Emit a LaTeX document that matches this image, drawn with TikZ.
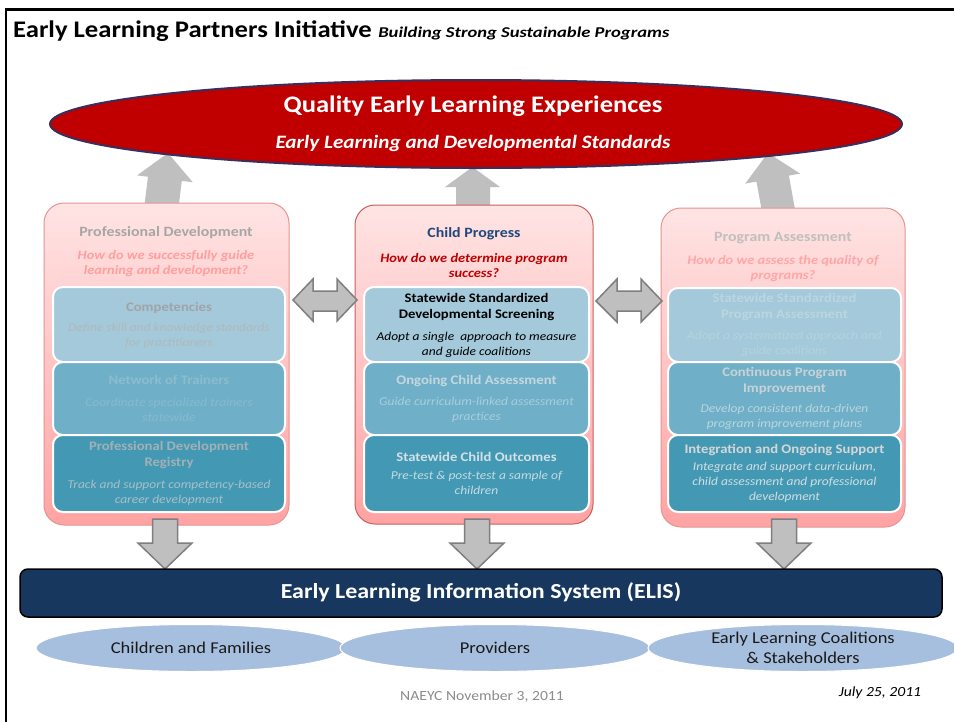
\documentclass[tikz,border=0pt]{standalone}
\usepackage{fontspec}
\setmainfont{Carlito}[FakeStretch=1.12]
\usetikzlibrary{shapes.geometric}
\definecolor{qred}{HTML}{C00000}
\definecolor{qrim}{HTML}{3A2E5C}
\definecolor{arrgray}{HTML}{BFBFBF}
\definecolor{arrline}{HTML}{7F7F7F}
\definecolor{pnltop}{HTML}{FFE4E4}
\definecolor{pnlbot}{HTML}{FFA3A3}
\definecolor{pnlrim}{HTML}{C9605D}
\definecolor{pnlrimf}{HTML}{E39593}
\definecolor{boxa}{HTML}{A3C9DA}
\definecolor{boxb}{HTML}{6FB0C8}
\definecolor{boxc}{HTML}{4399B4}
\definecolor{elis}{HTML}{17375E}
\definecolor{ovalc}{HTML}{A7BFDE}
\definecolor{navyt}{HTML}{1F497D}
\definecolor{footg}{HTML}{8C8C8C}
\tikzset{
  panelbox/.style={draw, rounded corners=20pt, top color=pnltop, bottom color=pnlbot, line width=1pt},
  innerbox/.style={draw=white, line width=2pt, rounded corners=10pt},
  blockarr/.style={fill=arrgray, draw=arrline, line width=1.5pt, line join=miter},
  uparr/.style={fill=arrgray},
  ptitle/.style={font=\fontsize{14.2}{16}\selectfont\bfseries, align=center, inner sep=0},
  pquest/.style={font=\fontsize{12.9}{15}\selectfont\bfseries\itshape, align=center, inner sep=0},
  btitle/.style={font=\fontsize{13.1}{16}\selectfont\bfseries, align=center, inner sep=0},
  bdesc/.style={font=\fontsize{12}{15}\selectfont\itshape, align=center, inner sep=0},
  ovaltxt/.style={font=\fontsize{16.5}{20}\selectfont, align=center, inner sep=0, text=black!90},
  oval/.style={ellipse, fill=ovalc, draw=white, line width=1pt, minimum width=310pt, minimum height=47pt, inner sep=0}
}
\begin{document}
\begin{tikzpicture}[x=1pt,y=-1pt]
\useasboundingbox (0,0) rectangle (954,721);
\fill[white] (0,0) rectangle (954,721);
% frame
\draw[line width=2.7pt] (6,722) -- (6,9.7) -- (956,9.7);
% title
\node[anchor=base west, inner sep=0] (title) at (13,37) {{\fontsize{23.8}{24}\selectfont\bfseries Early Learning Partners Initiative}\hspace{4pt} {\addfontfeature{FakeStretch=1.24}\fontsize{15}{15}\selectfont\bfseries\itshape Building Strong Sustainable Programs}};

% up arrows (drawn under the ellipse)
\fill[uparr] (168,153) -- (192.7,182.2) -- (181.8,180.9) -- (178.0,211.6) -- (144.2,207.4) -- (148.0,176.7) -- (137.1,175.4) -- cycle;
\fill[uparr] (472.5,167) -- (500,187) -- (490,187) -- (490,210) -- (456,210) -- (456,187) -- (445,187) -- cycle;
\fill[uparr] (768,153) -- (800.2,173.6) -- (788.9,175.6) -- (795.3,211.0) -- (762.9,217.0) -- (756.5,181.6) -- (745.2,183.6) -- cycle;

% top ellipse
\node[ellipse, fill=qred, draw=qrim, line width=2pt, minimum width=852pt, minimum height=88pt] (quality) at (476,124) {};
\node[text=white, font=\fontsize{23.7}{24}\selectfont\bfseries, inner sep=0] (qt) at (473,106) {Quality Early Learning Experiences};
\node[text=white, font=\fontsize{18.9}{20}\selectfont\bfseries\itshape, inner sep=0] (qs) at (473,143) {Early Learning and Developmental Standards};

% panels
\node[panelbox, draw=pnlrimf, minimum width=245pt, minimum height=322pt] (pd) at (166.5,364) {};
\node[panelbox, draw=pnlrim, minimum width=238pt, minimum height=319pt] (cp) at (474,364.5) {};
\node[panelbox, draw=pnlrimf, minimum width=244pt, minimum height=319pt] (pa) at (783,367.5) {};

% inner boxes left
\node[innerbox, fill=boxa, minimum width=232pt, minimum height=75pt] (pd1) at (169,324.5) {};
\node[innerbox, fill=boxb, minimum width=232pt, minimum height=73pt] (pd2) at (169,398.5) {};
\node[innerbox, fill=boxc, minimum width=232pt, minimum height=77pt] (pd3) at (169,473.5) {};
% inner boxes middle
\node[innerbox, fill=boxa, minimum width=225pt, minimum height=75pt] (cp1) at (476.5,324.5) {};
\node[innerbox, fill=boxb, minimum width=225pt, minimum height=73pt] (cp2) at (476.5,398.5) {};
\node[innerbox, fill=boxc, minimum width=225pt, minimum height=77pt] (cp3) at (476.5,473.5) {};
% inner boxes right
\node[innerbox, fill=boxa, minimum width=233pt, minimum height=74pt] (pa1) at (784.5,325) {};
\node[innerbox, fill=boxb, minimum width=233pt, minimum height=73pt] (pa2) at (784.5,398.5) {};
\node[innerbox, fill=boxc, minimum width=233pt, minimum height=77pt] (pa3) at (784.5,473.5) {};

% left panel texts (faded)
\node[ptitle, text={rgb,255:red,166;green,166;blue,166}] (pdt) at (166,233) {Professional Development};
\node[pquest, text={rgb,255:red,255;green,159;blue,159}] (pdq) at (166,263.5) {How do we successfully guide\\learning and development?};
\node[btitle, text={rgb,255:red,160;green,164;blue,168}] (pd1t) at (169,308) {Competencies};
\node[bdesc, text={rgb,255:red,176;green,184;blue,188}] (pd1d) at (169,335.5) {Define skill and knowledge standards\\for practitioners};
\node[btitle, text={rgb,255:red,140;green,188;blue,206}] (pd2t) at (169,380) {Network of Trainers};
\node[bdesc, text={rgb,255:red,136;green,186;blue,205}] (pd2d) at (169,410) {Coordinate specialized trainers\\statewide};
\node[btitle, text={rgb,255:red,163;green,176;blue,181}] (pd3t) at (169,455) {Professional Development\\Registry};
\node[bdesc, text={rgb,255:red,169;green,191;blue,199}] (pd3d) at (169,493) {Track and support competency-based\\career development};

% middle panel texts
\node[ptitle, text=navyt] (cpt) at (474,234) {Child Progress};
\node[pquest, text=qred] (cpq) at (474,265.5) {How do we determine program\\success?};
\node[btitle, text=black] (cp1t) at (476.5,307) {Statewide Standardized\\Developmental Screening};
\node[bdesc, text=black] (cp1d) at (476.5,344.5) {Adopt a single\ \ approach to measure\\and guide coalitions};
\node[btitle, text={rgb,255:red,197;green,215;blue,222}] (cp2t) at (476.5,381) {Ongoing Child Assessment};
\node[bdesc, text={rgb,255:red,167;green,206;blue,220}] (cp2d) at (476.5,410) {Guide curriculum-linked assessment\\practices};
\node[btitle, text={rgb,255:red,211;green,224;blue,230}] (cp3t) at (476.5,457) {Statewide Child Outcomes};
\node[bdesc, text={rgb,255:red,198;green,218;blue,226}] (cp3d) at (476.5,482.5) {Pre-test \& post-test a sample of\\children};

% right panel texts (faded)
\node[ptitle, text={rgb,255:red,191;green,191;blue,191}] (pat) at (783,238) {Program Assessment};
\node[pquest, text={rgb,255:red,255;green,166;blue,166}] (paq) at (783,269) {How do we assess the quality of\\programs?};
\node[btitle, text={rgb,255:red,188;green,214;blue,224}] (pa1t) at (784.5,307.5) {Statewide Standardized\\Program Assessment};
\node[bdesc, text={rgb,255:red,182;green,211;blue,222}] (pa1d) at (784.5,344) {Adopt a systematized approach and\\guide coalitions};
\node[btitle, text={rgb,255:red,201;green,210;blue,214}] (pa2t) at (784.5,381) {Continuous Program\\Improvement};
\node[bdesc, text={rgb,255:red,185;green,214;blue,224}] (pa2d) at (784.5,417) {Develop consistent data-driven\\program improvement plans};
\node[btitle, text={rgb,255:red,214;green,214;blue,214}] (pa3t) at (784.5,450) {Integration and Ongoing Support};
\node[bdesc, text={rgb,255:red,210;green,221;blue,226}] (pa3d) at (784.5,482.5) {Integrate and support curriculum,\\child assessment and professional\\development};

% double arrows
\draw[blockarr] (293,300) -- (313,279) -- (313,291) -- (337,291) -- (337,279) -- (357,300) -- (337,321) -- (337,311) -- (313,311) -- (313,321) -- cycle;
\draw[blockarr] (596,301) -- (617,279) -- (617,291) -- (641,291) -- (641,279) -- (662,301) -- (641,322) -- (641,311) -- (617,311) -- (617,322) -- cycle;

% down arrows
\draw[blockarr] (152.5,519) -- (177.5,519) -- (177.5,543) -- (192,543) -- (165,569) -- (138,543) -- (152.5,543) -- cycle;
\draw[blockarr] (464.5,519) -- (489.5,519) -- (489.5,543) -- (504,543) -- (477,569) -- (450,543) -- (464.5,543) -- cycle;
\draw[blockarr] (771.5,519) -- (796.5,519) -- (796.5,543) -- (811,543) -- (784,569) -- (757,543) -- (771.5,543) -- cycle;

% ELIS bar
\node[fill=elis, draw=black, line width=1.5pt, rounded corners=8pt, minimum width=922pt, minimum height=48pt] (elisbar) at (481,593) {};
\node[text=white, font=\fontsize{21.4}{22}\selectfont\bfseries, inner sep=0] (elist) at (481,592) {Early Learning Information System (ELIS)};

% ovals
\node[oval] (o1) at (191,648) {};
\node[oval] (o2) at (495,648) {};
\node[oval] (o3) at (803,648) {};
\node[ovaltxt] (o1t) at (191,648) {Children and Families};
\node[ovaltxt] (o2t) at (495,648) {Providers};
\node[ovaltxt] (o3t) at (803,648) {Early Learning Coalitions\\\& Stakeholders};

% footer
\node[text=footg, font=\fontsize{14}{16}\selectfont, inner sep=0] (foot1) at (482,697) {NAEYC November 3, 2011};
\node[font=\fontsize{14}{16}\selectfont\itshape, inner sep=0] (foot2) at (880,693) {July 25, 2011};
\end{tikzpicture}
\end{document}
